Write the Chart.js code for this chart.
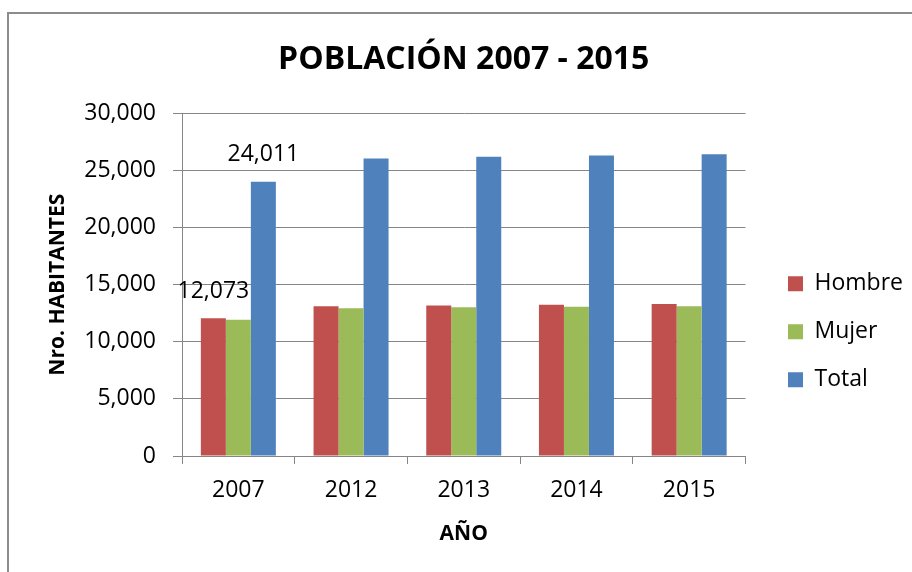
<!DOCTYPE html>
<html>
<head>
<meta charset="utf-8">
<script src="https://cdn.jsdelivr.net/npm/chart.js@4.4.1/dist/chart.umd.min.js"></script>
<style>
  html, body { margin: 0; padding: 0; background: #fff; }
  #wrap { position: relative; width: 912px; height: 572px; overflow: hidden; }
  #frame { position: absolute; left: 7px; top: 12px; width: 1000px; height: 1000px; border: 2px solid #8c8c8c; box-sizing: border-box; }
  canvas { position: absolute; left: 0; top: 0; }
</style>
</head>
<body>
<div id="wrap">
  <div id="frame"></div>
  <canvas id="chart" width="912" height="572"></canvas>
</div>
<script>
const years  = ['2007', '2012', '2013', '2014', '2015'];
const hombre = [12073, 13120, 13180, 13240, 13300];
const mujer  = [11938, 12930, 13020, 13070, 13120];
const total  = [24011, 26050, 26200, 26310, 26420];
const yMax = 30000;
const yStep = 5000;
// bars that show their value: [dataset, category]
const shownLabels = [[0, 0], [2, 0]];

const FONT = '"Open Sans", "DejaVu Sans", sans-serif';
const GRID = '#868686';
const fmt = v => Number(v).toLocaleString('en-US');

// value labels above the chosen bars
const valueLabels = {
  id: 'valueLabels',
  afterDatasetsDraw(chart) {
    const ctx = chart.ctx;
    ctx.save();
    ctx.font = '23px ' + FONT;
    ctx.fillStyle = '#000';
    ctx.textAlign = 'center';
    ctx.textBaseline = 'middle';
    shownLabels.forEach(([d, i]) => {
      const bar = chart.getDatasetMeta(d).data[i];
      ctx.fillText(fmt(chart.data.datasets[d].data[i]), bar.x, bar.y - 27);
    });
    ctx.restore();
  }
};

new Chart(document.getElementById('chart').getContext('2d'), {
  type: 'bar',
  data: {
    labels: years,
    datasets: [
      { label: 'Hombre', data: hombre, backgroundColor: '#C0504D' },
      { label: 'Mujer',  data: mujer,  backgroundColor: '#9BBB59' },
      { label: 'Total',  data: total,  backgroundColor: '#4F81BD' }
    ]
  },
  options: {
    responsive: false,
    animation: false,
    devicePixelRatio: 1,
    categoryPercentage: 0.6655,
    barPercentage: 1,
    layout: { padding: 0 },
    plugins: {
      title: {
        display: true,
        fullSize: false,
        text: 'POBLACIÓN 2007 - 2015',
        color: '#000',
        font: { family: FONT, size: 32, weight: 'bold' },
        padding: { top: 41, bottom: 34 }
      },
      legend: {
        position: 'right',
        fullSize: false,
        maxWidth: 149,
        title: { display: true, text: ' ', font: { size: 10, lineHeight: 1 }, padding: { top: 0, bottom: 84 } },
        labels: {
          boxWidth: 15, boxHeight: 15, padding: 25, color: '#000',
          font: { family: FONT, size: 23 }
        }
      },
      tooltip: { enabled: false }
    },
    scales: {
      x: {
        grid: { display: true, drawOnChartArea: false, drawTicks: true, tickLength: 8, color: GRID, offset: true },
        border: { display: true, color: GRID },
        ticks: { color: '#000', font: { family: FONT, size: 23 }, padding: 13 },
        title: { display: true, text: 'AÑO', color: '#000', font: { family: FONT, size: 21, weight: 'bold' }, padding: { top: 0, bottom: 25 } },
        afterFit: s => { s.height = 116; }
      },
      y: {
        min: 0, max: yMax,
        ticks: { stepSize: yStep, color: '#000', font: { family: FONT, size: 23 }, padding: 17, callback: v => fmt(v) },
        grid: { color: GRID, tickLength: 9 },
        border: { display: true, color: GRID },
        title: { display: true, text: 'Nro. HABITANTES', color: '#000', font: { family: FONT, size: 21, weight: 'bold' }, padding: { top: 45, bottom: 0 } },
        afterFit: s => { s.width = 182; }
      },
      // empty spacer between plot and legend
      spacer: {
        position: 'right',
        grid: { display: false }, border: { display: false }, ticks: { display: false },
        afterFit: s => { s.width = 17.5; }
      }
    }
  },
  plugins: [valueLabels]
});
</script>
</body>
</html>
